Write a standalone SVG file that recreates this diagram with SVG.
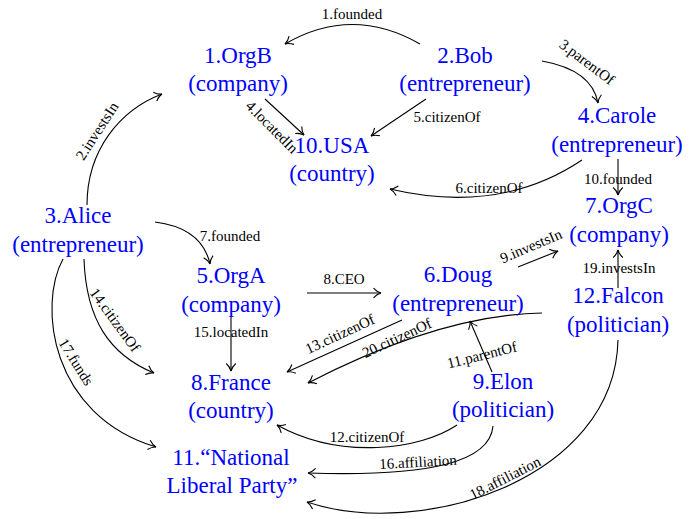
<svg xmlns="http://www.w3.org/2000/svg" width="690" height="519" viewBox="0 0 690 519">
<style>
.node text{font-family:"Liberation Serif","DejaVu Serif",serif;font-size:23px;fill:#0000ff;text-anchor:middle}
.edges path{fill:none;stroke:#000;stroke-width:1.1}
.edges .e{marker-end:url(#arr)}
.lbl{font-family:"Liberation Serif","DejaVu Serif",serif;font-size:15px;fill:#000;text-anchor:middle}
</style>
<defs>
<marker id="arr" markerUnits="userSpaceOnUse" viewBox="-10 -7 12 14" markerWidth="12" markerHeight="14" refX="0" refY="0" orient="auto" overflow="visible">
<path d="M -7.5,-4.8 C -5,-2 -2,-0.5 0,0 C -2,0.5 -5,2 -7.5,4.8" fill="none" stroke="#000" stroke-width="1.1"/>
</marker>
</defs>
<rect width="690" height="519" fill="#fff"/>
<g class="edges" id="edges">
<path class="e" d="M 420 44 Q 352 5 285 44"/>
<path class="e" d="M 87 205 C 87 150, 120 110, 162 94"/>
<path class="e" d="M 542 61 Q 592 70 598 103"/>
<path class="e" d="M 265 99 L 304 135"/>
<path class="e" d="M 426 99 L 371 136"/>
<path class="e" d="M 582 160 Q 500 215 390 189"/>
<path class="e" d="M 618 159 L 618 195"/>
<path class="e" d="M 155 222 Q 202 228 210 264"/>
<path class="e" d="M 307 293 L 381 293"/>
<path class="e" d="M 518 267 L 558 251"/>
<path class="e" d="M 618 288 L 618 250"/>
<path class="e" d="M 231 316 L 231 371"/>
<path class="e" d="M 84 259 C 86 320, 110 355, 154 373"/>
<path class="e" d="M 63 259 C 38 305, 50 415, 156 447"/>
<path class="e" d="M 402 320 L 287 372"/>
<path class="e" d="M 542 313 Q 440 315 308 383"/>
<path class="e" d="M 492 372 L 470 321"/>
<path class="e" d="M 457 425 C 420 450, 340 460, 277 425"/>
<path class="e" d="M 493 426 C 490 462, 430 477, 308 473"/>
<path class="e" d="M 618 340 C 615 480, 420 540, 307 502"/>
<text class="lbl" x="352" y="19">1.founded</text>
<text class="lbl" transform="translate(97,131) rotate(-57)" y="5">2.investsIn</text>
<text class="lbl" transform="translate(587,62) rotate(37)" y="5">3.parentOf</text>
<text class="lbl" transform="translate(272,127) rotate(45)" y="5">4.locatedIn</text>
<text class="lbl" x="447" y="122">5.citizenOf</text>
<text class="lbl" x="489" y="193">6.citizenOf</text>
<text class="lbl" x="230" y="241">7.founded</text>
<text class="lbl" x="344" y="284">8.CEO</text>
<text class="lbl" transform="translate(531,246) rotate(-23)" y="5">9.investsIn</text>
<text class="lbl" x="618" y="184">10.founded</text>
<text class="lbl" transform="translate(482,355) rotate(-14)" y="5">11.parentOf</text>
<text class="lbl" x="367" y="442">12.citizenOf</text>
<text class="lbl" transform="translate(340,334) rotate(-25)" y="5">13.citizenOf</text>
<text class="lbl" transform="translate(115,320) rotate(54)" y="5">14.citizenOf</text>
<text class="lbl" x="231" y="337">15.locatedIn</text>
<text class="lbl" transform="translate(418,462) rotate(-3)" y="5">16.affiliation</text>
<text class="lbl" transform="translate(76,362) rotate(58)" y="5">17.funds</text>
<text class="lbl" transform="translate(505,478) rotate(-27)" y="5">18.affiliation</text>
<text class="lbl" x="619" y="273">19.investsIn</text>
<text class="lbl" transform="translate(397,338) rotate(-25)" y="5">20.citizenOf</text>
</g>
<g class="node" id="n1"><text x="238" y="63">1.OrgB</text><text x="238" y="91">(company)</text></g>
<g class="node" id="n2"><text x="465" y="63">2.Bob</text><text x="465" y="91">(entrepreneur)</text></g>
<g class="node" id="n3"><text x="78" y="223">3.Alice</text><text x="78" y="252">(entrepreneur)</text></g>
<g class="node" id="n4"><text x="617" y="123">4.Carole</text><text x="617" y="152">(entrepreneur)</text></g>
<g class="node" id="n5"><text x="231" y="283">5.OrgA</text><text x="231" y="312">(company)</text></g>
<g class="node" id="n6"><text x="458" y="282">6.Doug</text><text x="458" y="311">(entrepreneur)</text></g>
<g class="node" id="n7"><text x="619" y="213">7.OrgC</text><text x="619" y="242">(company)</text></g>
<g class="node" id="n8"><text x="231" y="390">8.France</text><text x="231" y="418">(country)</text></g>
<g class="node" id="n9"><text x="503" y="389">9.Elon</text><text x="503" y="417">(politician)</text></g>
<g class="node" id="n10"><text x="332" y="153">10.USA</text><text x="332" y="181">(country)</text></g>
<g class="node" id="n11"><text x="231" y="465">11.“National</text><text x="232" y="493">Liberal Party”</text></g>
<g class="node" id="n12"><text x="618" y="303">12.Falcon</text><text x="618" y="332">(politician)</text></g>
</svg>
